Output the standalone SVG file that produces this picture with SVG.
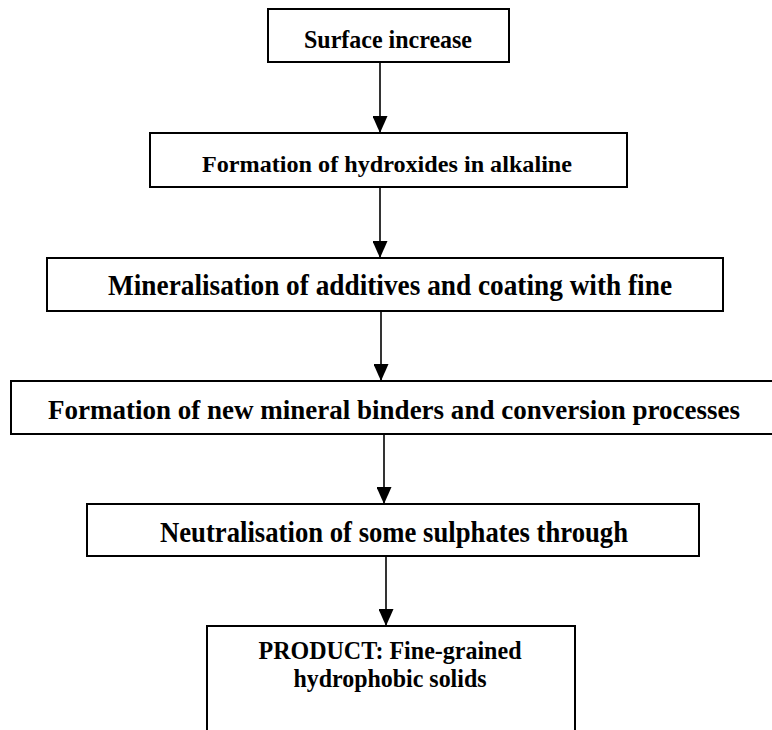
<svg xmlns="http://www.w3.org/2000/svg" width="772" height="730" viewBox="0 0 772 730">
  <style>
    .box { fill: #ffffff; stroke: #000000; stroke-width: 2; }
    .lbl { font-family: "Liberation Serif", "Times New Roman", serif; font-weight: bold; fill: #000000; text-anchor: middle; }
    .link { stroke: #000000; stroke-width: 1.6; fill: none; marker-end: url(#head); }
  </style>
  <defs>
    <!-- filled triangular arrowhead, tip at the end of the line -->
    <marker id="head" viewBox="0 0 17 15" refX="17" refY="7.5" markerWidth="17" markerHeight="15" markerUnits="userSpaceOnUse" orient="auto">
      <path d="M0,0 L17,7.5 L0,15 Z" fill="#000000"/>
    </marker>
  </defs>
  <rect width="772" height="730" fill="#ffffff"/>

  <g id="connectors">
    <line class="link" x1="380" y1="62" x2="380" y2="133"/>
    <line class="link" x1="380" y1="187" x2="380" y2="258"/>
    <line class="link" x1="381" y1="311" x2="381" y2="381"/>
    <line class="link" x1="384" y1="434" x2="384" y2="504"/>
    <line class="link" x1="386" y1="556" x2="386" y2="626"/>
  </g>

  <g id="surface-increase">
    <rect class="box" x="268" y="9" width="241" height="53"/>
    <text class="lbl" x="388" y="48" font-size="25" textLength="168" lengthAdjust="spacingAndGlyphs">Surface increase</text>
  </g>

  <g id="hydroxides">
    <rect class="box" x="150" y="133" width="477" height="54"/>
    <text class="lbl" x="387" y="172" font-size="23" textLength="370" lengthAdjust="spacingAndGlyphs">Formation of hydroxides in alkaline</text>
  </g>

  <g id="mineralisation">
    <rect class="box" x="47" y="258" width="676" height="53"/>
    <text class="lbl" x="390" y="295" font-size="30" textLength="564" lengthAdjust="spacingAndGlyphs">Mineralisation of additives and coating with fine</text>
  </g>

  <g id="binders">
    <!-- box runs past the right edge of the page -->
    <path class="box" d="M772,381 H11 V434 H772"/>
    <text class="lbl" x="394" y="419" font-size="28" textLength="692" lengthAdjust="spacingAndGlyphs">Formation of new mineral binders and conversion processes</text>
  </g>

  <g id="neutralisation">
    <rect class="box" x="87" y="504" width="612" height="52"/>
    <text class="lbl" x="394" y="542" font-size="29" textLength="468" lengthAdjust="spacingAndGlyphs">Neutralisation of some sulphates through</text>
  </g>

  <g id="product">
    <!-- box runs past the bottom edge of the page -->
    <path class="box" d="M207,730 V626 H575 V730"/>
    <text class="lbl" x="390" y="659" font-size="25" textLength="263" lengthAdjust="spacingAndGlyphs">PRODUCT: Fine-grained</text>
    <text class="lbl" x="390" y="687" font-size="25" textLength="193" lengthAdjust="spacingAndGlyphs">hydrophobic solids</text>
  </g>
</svg>
